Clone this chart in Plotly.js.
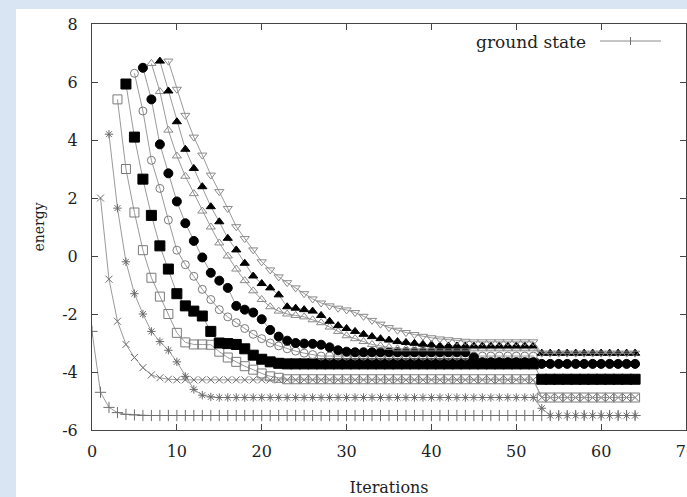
<!DOCTYPE html>
<html>
<head>
<meta charset="utf-8">
<script src="https://cdn.plot.ly/plotly-3.0.1.min.js"></script>
<style>
  html, body { margin: 0; padding: 0; background: #d9e5f3; }
  #chart { width: 687px; height: 497px; }
</style>
</head>
<body>
<div id="chart"></div>
<script>
// Iteration counter shared by every state
const iterations = [
  0, 1, 2, 3, 4, 5, 6, 7, 8, 9,
  10,11,12,13,14,15,16,17,18,19,
  20,21,22,23,24,25,26,27,28,29,
  30,31,32,33,34,35,36,37,38,39,
  40,41,42,43,44,45,46,47,48,49,
  50,51,52,53,54,55,56,57,58,59,
  60,61,62,63,64];

// Energy estimate of each state per iteration (null before the state is tracked); rows of ten iterations
const groundState = [
  -2.6,-4.7,-5.22,-5.4,-5.46,-5.48,-5.5,-5.5,-5.5,-5.5,
  -5.5,-5.5,-5.5,-5.5,-5.5,-5.5,-5.5,-5.5,-5.5,-5.5,
  -5.5,-5.5,-5.5,-5.5,-5.5,-5.5,-5.5,-5.5,-5.5,-5.5,
  -5.5,-5.5,-5.5,-5.5,-5.5,-5.5,-5.5,-5.5,-5.5,-5.5,
  -5.5,-5.5,-5.5,-5.5,-5.5,-5.5,-5.5,-5.5,-5.5,-5.5,
  -5.5,-5.5,-5.5,-5.5,-5.5,-5.5,-5.5,-5.5,-5.5,-5.5,
  -5.5,-5.5,-5.5,-5.5,-5.5];

const state1 = [
  null,2.0,-0.8,-2.25,-3.05,-3.5,-3.85,-4.1,-4.2,-4.25,
  -4.27,-4.27,-4.27,-4.27,-4.27,-4.27,-4.27,-4.27,-4.27,-4.27,
  -4.27,-4.27,-4.27,-4.27,-4.27,-4.27,-4.27,-4.27,-4.27,-4.27,
  -4.27,-4.27,-4.27,-4.27,-4.27,-4.27,-4.27,-4.27,-4.27,-4.27,
  -4.27,-4.27,-4.27,-4.27,-4.27,-4.27,-4.27,-4.27,-4.27,-4.27,
  -4.27,-4.27,-4.27,-4.88,-4.88,-4.88,-4.88,-4.88,-4.88,-4.88,
  -4.88,-4.88,-4.88,-4.88,-4.88];

const state2 = [
  null,null,4.2,1.65,-0.2,-1.3,-2.0,-2.6,-2.95,-3.25,
  -3.65,-4.15,-4.6,-4.8,-4.86,-4.88,-4.88,-4.88,-4.88,-4.88,
  -4.88,-4.88,-4.88,-4.88,-4.88,-4.88,-4.88,-4.88,-4.88,-4.88,
  -4.88,-4.88,-4.88,-4.88,-4.88,-4.88,-4.88,-4.88,-4.88,-4.88,
  -4.88,-4.88,-4.88,-4.88,-4.88,-4.88,-4.88,-4.88,-4.88,-4.88,
  -4.88,-4.88,-4.88,-5.25,-5.5,-5.5,-5.5,-5.5,-5.5,-5.5,
  -5.5,-5.5,-5.5,-5.5,-5.5];

const state3 = [
  null,null,null,5.4,3.0,1.5,0.2,-0.75,-1.4,-2.0,
  -2.65,-2.98,-3.05,-3.05,-3.06,-3.3,-3.5,-3.65,-3.8,-3.92,
  -4.05,-4.15,-4.2,-4.25,-4.25,-4.25,-4.25,-4.25,-4.25,-4.25,
  -4.25,-4.25,-4.25,-4.25,-4.25,-4.25,-4.25,-4.25,-4.25,-4.25,
  -4.25,-4.25,-4.25,-4.25,-4.25,-4.25,-4.25,-4.25,-4.25,-4.25,
  -4.25,-4.25,-4.25,-4.88,-4.88,-4.88,-4.88,-4.88,-4.88,-4.88,
  -4.88,-4.88,-4.88,-4.88,-4.88];

const state4 = [
  null,null,null,null,5.93,4.1,2.65,1.4,0.35,-0.45,
  -1.3,-1.72,-1.9,-2.07,-2.6,-3.0,-3.02,-3.05,-3.2,-3.42,
  -3.56,-3.65,-3.7,-3.72,-3.72,-3.72,-3.72,-3.72,-3.72,-3.72,
  -3.72,-3.72,-3.72,-3.72,-3.72,-3.72,-3.72,-3.72,-3.72,-3.72,
  -3.72,-3.72,-3.72,-3.72,-3.72,-3.72,-3.72,-3.72,-3.72,-3.72,
  -3.72,-3.72,-3.72,-4.25,-4.25,-4.25,-4.25,-4.25,-4.25,-4.25,
  -4.25,-4.25,-4.25,-4.25,-4.25];

const state5 = [
  null,null,null,null,null,6.3,5.0,3.3,2.33,1.24,
  0.2,-0.3,-0.7,-1.15,-1.5,-1.85,-2.1,-2.3,-2.5,-2.7,
  -2.85,-3.0,-3.1,-3.2,-3.28,-3.35,-3.4,-3.45,-3.45,-3.45,
  -3.45,-3.45,-3.45,-3.45,-3.45,-3.45,-3.45,-3.45,-3.45,-3.45,
  -3.45,-3.45,-3.45,-3.45,-3.45,-3.45,-3.45,-3.45,-3.45,-3.45,
  -3.45,-3.45,-3.45,-3.72,-3.72,-3.72,-3.72,-3.72,-3.72,-3.72,
  -3.72,-3.72,-3.72,-3.72,-3.72];

const state6 = [
  null,null,null,null,null,null,6.49,5.4,3.85,2.85,
  1.88,1.13,0.52,-0.05,-0.58,-0.85,-1.1,-1.72,-1.85,-1.95,
  -2.18,-2.55,-2.78,-2.92,-3.0,-3.02,-3.03,-3.06,-3.15,-3.25,
  -3.3,-3.32,-3.32,-3.32,-3.32,-3.32,-3.32,-3.32,-3.32,-3.32,
  -3.32,-3.32,-3.32,-3.32,-3.32,-3.5,-3.66,-3.66,-3.66,-3.66,
  -3.66,-3.66,-3.66,-3.72,-3.72,-3.72,-3.72,-3.72,-3.72,-3.72,
  -3.72,-3.72,-3.72,-3.72,-3.72];

const state7 = [
  null,null,null,null,null,null,null,6.64,5.67,4.34,
  3.45,2.75,2.15,1.55,1.0,0.45,0.0,-0.45,-0.85,-1.2,
  -1.5,-1.75,-1.9,-2.0,-2.05,-2.1,-2.2,-2.3,-2.45,-2.6,
  -2.75,-2.85,-2.95,-3.05,-3.1,-3.15,-3.2,-3.2,-3.2,-3.2,
  -3.2,-3.2,-3.2,-3.2,-3.2,-3.2,-3.2,-3.2,-3.2,-3.2,
  -3.2,-3.2,-3.2,-3.35,-3.35,-3.35,-3.35,-3.35,-3.35,-3.35,
  -3.35,-3.35,-3.35,-3.35,-3.35];

const state8 = [
  null,null,null,null,null,null,null,null,6.72,5.69,
  4.63,3.68,3.02,2.39,1.7,1.18,0.61,0.21,-0.25,-0.69,
  -0.95,-1.1,-1.34,-1.75,-1.8,-1.85,-1.9,-2.05,-2.25,-2.4,
  -2.5,-2.6,-2.7,-2.78,-2.85,-2.9,-2.95,-2.98,-3.01,-3.04,
  -3.06,-3.1,-3.1,-3.1,-3.1,-3.1,-3.1,-3.1,-3.1,-3.1,
  -3.1,-3.1,-3.1,-3.35,-3.35,-3.35,-3.35,-3.35,-3.35,-3.35,
  -3.35,-3.35,-3.35,-3.35,-3.35];

const state9 = [
  null,null,null,null,null,null,null,null,null,6.72,
  5.75,4.85,4.1,3.48,2.79,2.22,1.64,1.01,0.6,0.21,
  -0.2,-0.48,-0.72,-0.92,-1.1,-1.3,-1.48,-1.62,-1.72,-1.8,
  -1.86,-1.95,-2.08,-2.22,-2.35,-2.47,-2.56,-2.64,-2.71,-2.77,
  -2.82,-2.86,-2.89,-2.92,-2.94,-2.96,-2.96,-2.96,-2.96,-2.96,
  -2.96,-2.96,-2.96,-3.35,-3.35,-3.35,-3.35,-3.35,-3.35,-3.35,
  -3.35,-3.35,-3.35,-3.35,-3.35];

const stateValues = [groundState, state1, state2, state3, state4, state5, state6, state7, state8, state9];
const stateNames = ['ground state', 'state 1', 'state 2', 'state 3', 'state 4', 'state 5', 'state 6', 'state 7', 'state 8', 'state 9'];

// Tick positions and their printed labels (plain hyphen minus)
const iterTicks = [0, 10, 20, 30, 40, 50, 60, 70];
const iterTickLabels = ['0', '10', '20', '30', '40', '50', '60', '70'];
const energyTicks = [-6, -4, -2, 0, 2, 4, 6, 8];
const energyTickLabels = ['-6', '-4', '-2', '0', '2', '4', '6', '8'];

// gnuplot-like point types: +, x, *, open/filled square, open/filled circle, open/filled triangle, open down-triangle
const pointStyles = [
  { symbol: 'cross-thin-open',    size: 8,  color: '#6e6e6e' },
  { symbol: 'x-thin-open',        size: 7,  color: '#6e6e6e' },
  { symbol: 'asterisk-open',      size: 7,  color: '#6a6a6a' },
  { symbol: 'square-open',        size: 9,  color: '#7a7a7a' },
  { symbol: 'square',             size: 10, color: '#000000' },
  { symbol: 'circle-open',        size: 8,  color: '#7a7a7a' },
  { symbol: 'circle',             size: 9,  color: '#000000' },
  { symbol: 'triangle-up-open',   size: 8,  color: '#8a8a8a' },
  { symbol: 'triangle-up',        size: 8,  color: '#000000' },
  { symbol: 'triangle-down-open', size: 8,  color: '#8a8a8a' }
];

const traces = stateValues.map((vals, i) => ({
  type: 'scatter',
  mode: 'lines+markers',
  name: stateNames[i],
  x: iterations,
  y: vals,
  showlegend: false,
  line: { color: '#9a9a9a', width: 1 },
  marker: {
    symbol: pointStyles[i].symbol,
    size: pointStyles[i].size,
    color: pointStyles[i].color,
    line: { color: pointStyles[i].color, width: 1 }
  }
}));

// Plot area spans 92..686 px horizontally and 24..430 px vertically
const L = 92, R = 686, T = 24, B = 430;
const px = v => (v - L) / (R - L);
const py = v => (B - v) / (B - T);

const serif = 'DejaVu Serif, Liberation Serif, serif';
const ink = '#1e1e1e';

const axisBase = {
  ticks: 'inside',
  ticklen: 6,
  tickcolor: '#444',
  showline: true,
  linecolor: '#444',
  linewidth: 1,
  mirror: 'ticks',
  showgrid: false,
  zeroline: false,
  ticklabeloverflow: 'allow',
  tickfont: { family: serif, size: 16, color: ink }
};

const layout = {
  width: 687,
  height: 497,
  margin: { l: L, r: 687 - R, t: T, b: 497 - B, pad: 0 },
  paper_bgcolor: '#d9e5f3',
  plot_bgcolor: '#ffffff',
  font: { family: serif, color: ink, size: 16 },
  xaxis: Object.assign({}, axisBase, {
    range: [0, 70],
    tickmode: 'array',
    tickvals: iterTicks,
    ticktext: iterTickLabels,
    ticklabelstandoff: 7,
    title: { text: 'Iterations', font: { family: serif, size: 16, color: ink }, standoff: 21 }
  }),
  yaxis: Object.assign({}, axisBase, {
    range: [-6, 8],
    tickmode: 'array',
    tickvals: energyTicks,
    ticktext: energyTickLabels,
    ticklabelstandoff: 10,
    title: { text: 'energy', font: { family: serif, size: 14, color: ink }, standoff: 14 }
  }),
  shapes: [
    // white sheet behind the figure
    { type: 'rect', xref: 'paper', yref: 'paper', layer: 'below',
      x0: px(16), x1: px(700), y0: py(510), y1: py(9),
      fillcolor: '#ffffff', line: { width: 0 } },
    // key sample: line with a cross point
    { type: 'line', xref: 'paper', yref: 'paper',
      x0: px(600), x1: px(661), y0: py(41), y1: py(41),
      line: { color: '#8a8a8a', width: 1 } },
    { type: 'line', xref: 'paper', yref: 'paper',
      x0: px(630.5), x1: px(630.5), y0: py(37), y1: py(45),
      line: { color: '#6e6e6e', width: 1 } }
  ],
  annotations: [
    { xref: 'paper', yref: 'paper', x: px(588), y: py(42),
      xanchor: 'right', yanchor: 'middle', showarrow: false,
      text: 'ground state', font: { family: serif, size: 17, color: ink } }
  ]
};

Plotly.newPlot('chart', traces, layout, { displayModeBar: false, staticPlot: true });
</script>
</body>
</html>
